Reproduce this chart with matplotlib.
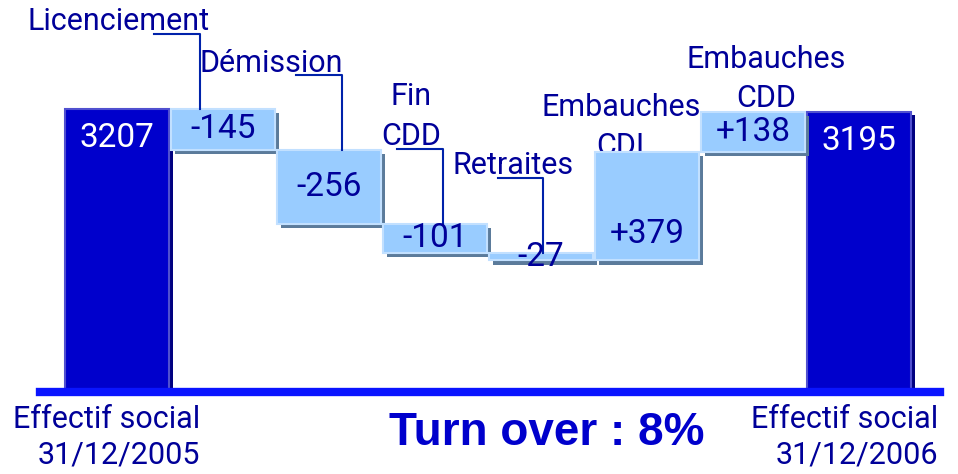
import matplotlib
matplotlib.use('Agg')
import matplotlib.pyplot as plt
import matplotlib.patheffects as pe

plt.rcParams['font.family'] = ['Roboto', 'DejaVu Sans']

# Data
start_label = 'Effectif social\n31/12/2005'
end_label = 'Effectif social\n31/12/2006'
start_value = 3207
end_value = 3195
steps = ['Licenciement', 'Démission', 'Fin\nCDD', 'Retraites', 'Embauches\nCDI', 'Embauches\nCDD']
changes = [-145, -256, -101, -27, 379, 138]
turnover = '8%'

# Colours
dark_blue = '#0000CC'
light_blue = '#99CCFF'
text_blue = '#000099'
line_blue = '#0A14FF'

fig = plt.figure(figsize=(9.58, 4.74), dpi=100)
ax = fig.add_axes([0.042, 0.173, 0.939, 0.827])
ax.set_xlim(-0.726, 7.76)
ax.set_ylim(2220, 3585)
ax.axis('off')

# data units per point (vertical)
pt = (3585 - 2220) / (0.827 * 4.74 * 72)

# running totals for the waterfall
bottoms, heights, tops = [], [], []
level = start_value
for c in changes:
    new = level + c
    bottoms.append(min(level, new))
    heights.append(abs(c))
    tops.append(max(level, new))
    level = new

dark_fx = [pe.SimplePatchShadow(offset=(3, -2), shadow_rgbFace='#000080', alpha=1), pe.Normal()]
light_fx = [pe.SimplePatchShadow(offset=(3, -3), shadow_rgbFace='#5B7B9B', alpha=1), pe.Normal()]

ax.bar([0, 7], [start_value, end_value], width=0.98, color=dark_blue,
       edgecolor='#5050D0', linewidth=1.5, path_effects=dark_fx, zorder=2)
xs = list(range(1, len(changes) + 1))
ax.bar(xs, heights, bottom=bottoms, width=0.98, color=light_blue,
       edgecolor='#C2E0FF', linewidth=1.5, path_effects=light_fx, zorder=2)

# baseline
ax.axhline(2220, color=line_blue, lw=6, zorder=4, clip_on=False)

# totals in the dark bars
for x, v in [(0, start_value), (7, end_value)]:
    ax.text(x, v - 21 * pt, str(v), color='white', fontsize=24,
            ha='center', va='center', zorder=5)

# values in the floating bars
for x, c, b, h in zip(xs, changes, bottoms, heights):
    if c < 0:
        y = b + h / 2
    else:
        y = b + min(h / 2, 19 * pt)
    ax.text(x, y, f'{c:+d}', color=text_blue, fontsize=24,
            ha='center', va='center', zorder=5)

# step labels with elbow connectors (decreases)
conn_dx = [-0.22, 0.12, 0.07, 0.02]
text_dx = [-0.77, -0.67, -0.30, -0.29]
rise = 54
for i in range(4):
    xc = xs[i] + conn_dx[i]
    top = tops[i]
    yl = top + rise * pt
    ax.plot([xc, xc, xc - 0.43], [top, yl, yl], color='#0022AA', lw=1.5, zorder=3)
    ax.text(xc + text_dx[i], yl - 2 * pt, steps[i], color=text_blue, fontsize=22,
            ha='center', va='bottom', linespacing=1.5, zorder=1)

# labels above the increases
inc_dx = [-0.25, 0.12]
inc_dy = [-7, -1]
for j, i in enumerate([4, 5]):
    ax.text(xs[i] + inc_dx[j], tops[i] + inc_dy[j] * pt, steps[i], color=text_blue,
            fontsize=22, ha='center', va='bottom', linespacing=1.45, zorder=1)

fig.text(200 / 958, 1 - 405 / 474, start_label, color=text_blue, fontsize=22,
         ha='right', va='top', multialignment='right', linespacing=1.28)
fig.text(938 / 958, 1 - 405 / 474, end_label, color=text_blue, fontsize=22,
         ha='right', va='top', multialignment='right', linespacing=1.28)
fig.text(547 / 958, 1 - 433 / 474, 'Turn over : ' + turnover, color=dark_blue,
         fontsize=33, fontweight='bold', family='Liberation Sans',
         ha='center', va='center')

fig.savefig('out.png', dpi=100)
